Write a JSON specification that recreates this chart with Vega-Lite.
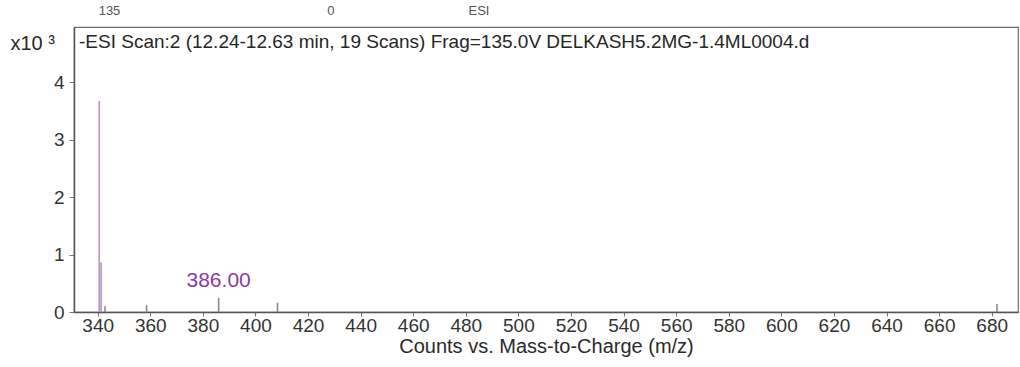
{
  "$schema": "https://vega.github.io/schema/vega-lite/v6.json",
  "autosize": {"type": "none"},
  "padding": {"left": 74, "top": 27, "right": 2, "bottom": 55},
  "width": 944,
  "height": 285,
  "background": "white",
  "config": {
    "font": "Liberation Sans",
    "view": {"stroke": "#6e6e6e", "strokeWidth": 1.2}
  },
  "datasets": {
    "peaks": [
      {"mz": 340.6, "counts": 3670, "label": null},
      {"mz": 341.3, "counts": 860, "label": null},
      {"mz": 342.8, "counts": 100, "label": null},
      {"mz": 358.6, "counts": 120, "label": null},
      {"mz": 386.0, "counts": 245, "label": "386.00"},
      {"mz": 408.4, "counts": 160, "label": null},
      {"mz": 682.0, "counts": 140, "label": null}
    ],
    "header": [
      {"mz": 344.5, "txt": "135"},
      {"mz": 428.7, "txt": "0"},
      {"mz": 485.0, "txt": "ESI"}
    ],
    "scantitle": [
      {"mz": 331, "counts": 4600, "txt": "-ESI Scan:2 (12.24-12.63 min, 19 Scans) Frag=135.0V DELKASH5.2MG-1.4ML0004.d"}
    ]
  },
  "layer": [
    {
      "data": {"name": "peaks"},
      "mark": {"type": "rule", "strokeWidth": 1.6},
      "encoding": {
        "x": {
          "field": "mz",
          "type": "quantitative",
          "scale": {"domain": [331, 690], "nice": false, "zero": false},
          "axis": {
            "values": [340, 360, 380, 400, 420, 440, 460, 480, 500, 520, 540, 560, 580, 600, 620, 640, 660, 680],
            "title": "Counts vs. Mass-to-Charge (m/z)",
            "titleFont": "Liberation Sans",
            "titleFontSize": 20,
            "titleFontWeight": "normal",
            "titleColor": "#2a2a2a",
            "titlePadding": 1,
            "grid": false,
            "domainColor": "#555555",
            "domainWidth": 1.5,
            "tickColor": "#777777",
            "tickSize": 4,
            "labelFont": "Liberation Sans",
            "labelFontSize": 19,
            "labelColor": "#333333",
            "labelPadding": 0,
            "labelFlush": false,
            "labelOverlap": false
          }
        },
        "y": {
          "field": "counts",
          "type": "quantitative",
          "scale": {"domain": [0, 4960], "nice": false},
          "axis": {
            "values": [0, 1000, 2000, 3000, 4000],
            "labelExpr": "datum.value / 1000",
            "title": "x10 ³",
            "titleAngle": 0,
            "titleAlign": "left",
            "titleBaseline": "alphabetic",
            "titleX": -64,
            "titleY": 22,
            "titleFont": "Liberation Sans",
            "titleFontSize": 20,
            "titleFontWeight": "normal",
            "titleColor": "#2a2a2a",
            "grid": false,
            "domainColor": "#555555",
            "domainWidth": 1.5,
            "tickColor": "#777777",
            "tickSize": 5,
            "labelFont": "Liberation Sans",
            "labelFontSize": 19,
            "labelColor": "#333333",
            "labelPadding": 5
          }
        },
        "y2": {"datum": 0},
        "color": {
          "condition": {"test": "datum.counts > 500", "value": "#b592c8"},
          "value": "#8a8a8a"
        }
      }
    },
    {
      "data": {"name": "peaks"},
      "transform": [{"filter": "datum.label != null"}],
      "mark": {"type": "text", "baseline": "bottom", "dy": -7, "fontSize": 21, "font": "Liberation Sans", "color": "#8c3c9e"},
      "encoding": {
        "x": {"field": "mz", "type": "quantitative"},
        "y": {"field": "counts", "type": "quantitative"},
        "text": {"field": "label"}
      }
    },
    {
      "data": {"name": "scantitle"},
      "mark": {"type": "text", "align": "left", "baseline": "alphabetic", "dx": 5, "fontSize": 19, "font": "Liberation Sans", "color": "#262626"},
      "encoding": {
        "x": {"field": "mz", "type": "quantitative"},
        "y": {"field": "counts", "type": "quantitative"},
        "text": {"field": "txt"}
      }
    },
    {
      "data": {"name": "header"},
      "mark": {"type": "text", "baseline": "bottom", "fontSize": 13, "font": "Liberation Sans", "color": "#555555", "clip": false},
      "encoding": {
        "x": {"field": "mz", "type": "quantitative"},
        "y": {"datum": 5117, "type": "quantitative"},
        "text": {"field": "txt"}
      }
    }
  ]
}
